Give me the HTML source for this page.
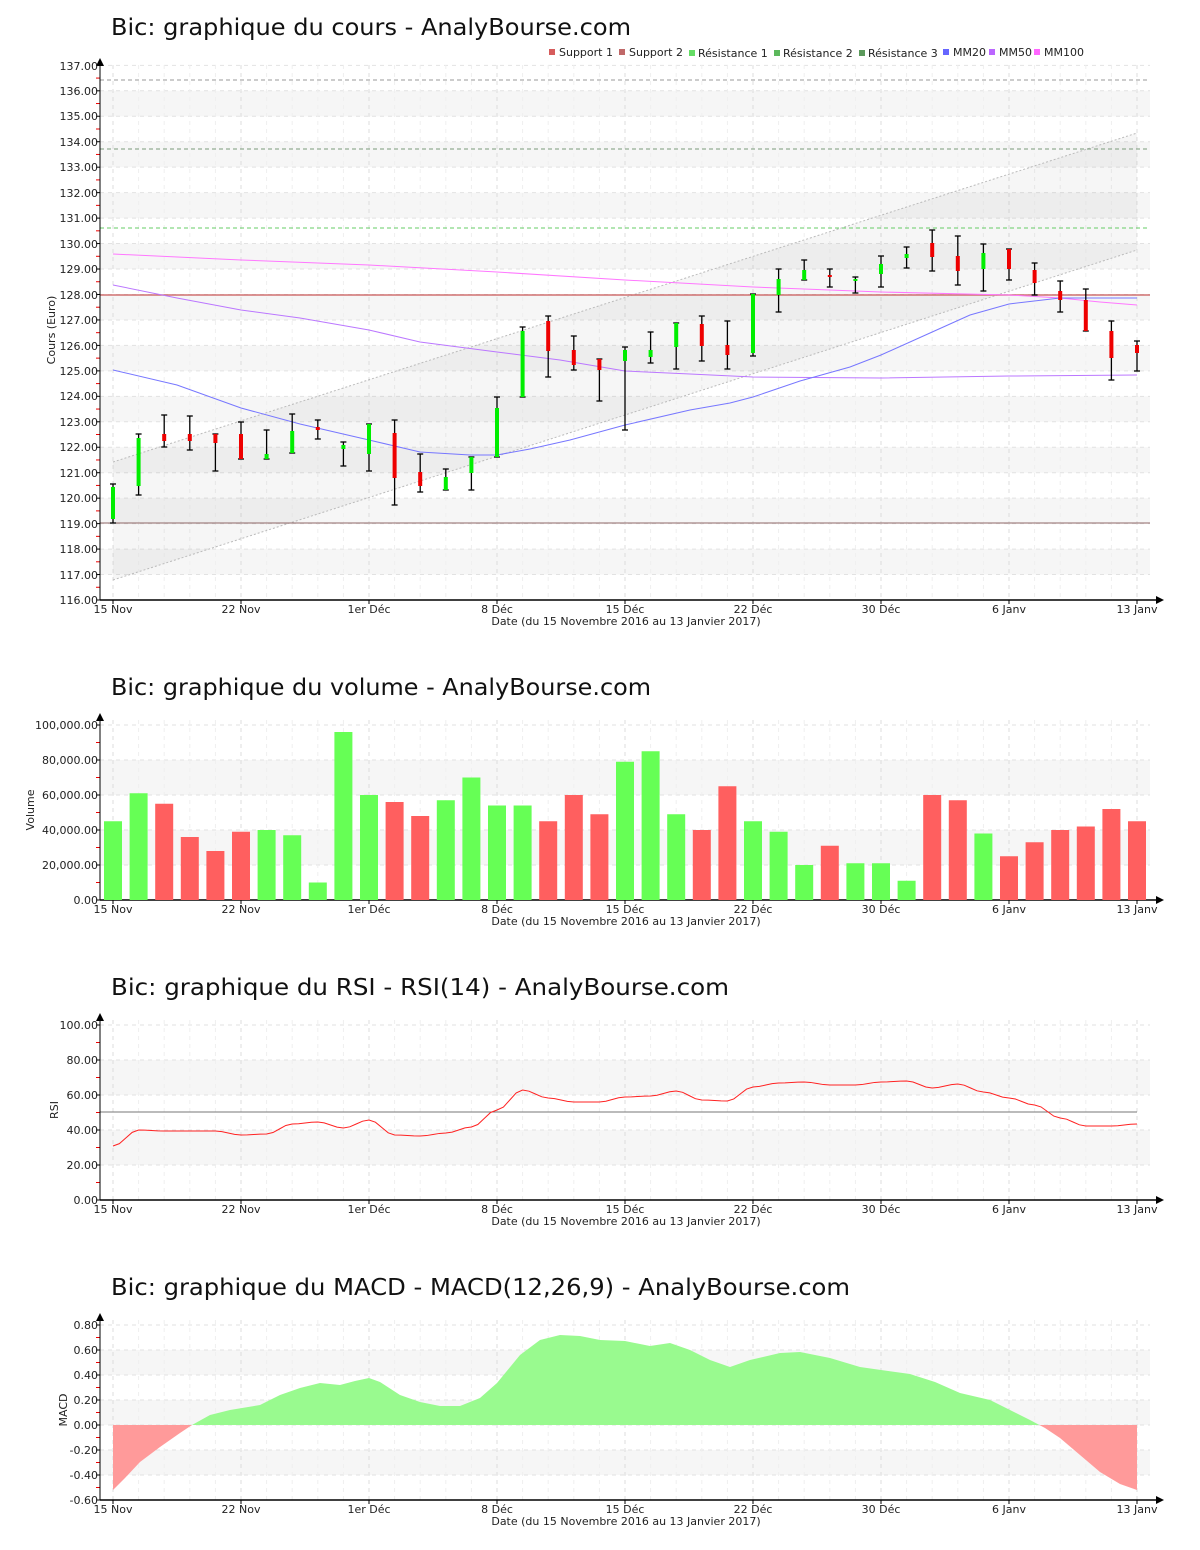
<!DOCTYPE html>
<html><head><meta charset="utf-8"><style>
body{margin:0;background:#fff}
svg{display:block;font-family:"DejaVu Sans","Liberation Sans",sans-serif}
.t{font-size:11px;fill:#222}
.ttl{font-size:23px;fill:#111}
</style></head><body>
<svg id="s" xmlns="http://www.w3.org/2000/svg" width="1200" height="1550" viewBox="0 0 1200 1550">
<defs>
<clipPath id="cpUp"><rect x="100" y="1300" width="1060" height="125"/></clipPath>
<clipPath id="cpDn"><rect x="100" y="1425" width="1060" height="100"/></clipPath>
</defs>
<rect width="1200" height="1550" fill="#fff"/>
<g id="shapes"></g>
<g id="macd">
<polygon id="macdUp" clip-path="url(#cpUp)" fill="#99fa8f"/>
<polygon id="macdDn" clip-path="url(#cpDn)" fill="#ff9a9a"/>
</g>
<g id="top"></g>
<text class="ttl" x="111" y="35" textLength="520" lengthAdjust="spacingAndGlyphs">Bic: graphique du cours - AnalyBourse.com</text>
<text class="ttl" x="111" y="695" textLength="540" lengthAdjust="spacingAndGlyphs">Bic: graphique du volume - AnalyBourse.com</text>
<text class="ttl" x="111" y="995" textLength="618" lengthAdjust="spacingAndGlyphs">Bic: graphique du RSI - RSI(14) - AnalyBourse.com</text>
<text class="ttl" x="111" y="1295" textLength="739" lengthAdjust="spacingAndGlyphs">Bic: graphique du MACD - MACD(12,26,9) - AnalyBourse.com</text>
<g class="t">
<rect x="549" y="49" width="6" height="6" fill="#d65c5c"/><text x="559" y="56">Support 1</text>
<rect x="619" y="49" width="6" height="6" fill="#c06868"/><text x="629" y="56">Support 2</text>
<rect x="689" y="50" width="6" height="6" fill="#66dd66"/><text x="698" y="57">Résistance 1</text>
<rect x="774" y="50" width="6" height="6" fill="#5cb85c"/><text x="783" y="57">Résistance 2</text>
<rect x="859" y="50" width="6" height="6" fill="#5c9a5c"/><text x="868" y="57">Résistance 3</text>
<rect x="943" y="49" width="6" height="6" fill="#6666ff"/><text x="953" y="56">MM20</text>
<rect x="989" y="49" width="6" height="6" fill="#bb66ff"/><text x="999" y="56">MM50</text>
<rect x="1034" y="49" width="6" height="6" fill="#ff66ff"/><text x="1044" y="56">MM100</text>
</g>
<g class="t" text-anchor="end">
<text x="98" y="70">137.00</text><text x="98" y="95">136.00</text><text x="98" y="120">135.00</text><text x="98" y="146">134.00</text><text x="98" y="171">133.00</text><text x="98" y="197">132.00</text><text x="98" y="222">131.00</text><text x="98" y="248">130.00</text><text x="98" y="273">129.00</text><text x="98" y="299">128.00</text><text x="98" y="324">127.00</text><text x="98" y="350">126.00</text><text x="98" y="375">125.00</text><text x="98" y="400">124.00</text><text x="98" y="426">123.00</text><text x="98" y="451">122.00</text><text x="98" y="477">121.00</text><text x="98" y="502">120.00</text><text x="98" y="528">119.00</text><text x="98" y="553">118.00</text><text x="98" y="579">117.00</text><text x="98" y="604">116.00</text>
</g>
<g class="t" text-anchor="middle">
<text x="113" y="613">15 Nov</text><text x="241" y="613">22 Nov</text><text x="369" y="613">1er Déc</text><text x="497" y="613">8 Déc</text><text x="625" y="613">15 Déc</text><text x="753" y="613">22 Déc</text><text x="881" y="613">30 Déc</text><text x="1009" y="613">6 Janv</text><text x="1137" y="613">13 Janv</text>
<text x="626" y="625">Date (du 15 Novembre 2016 au 13 Janvier 2017)</text>
<text transform="translate(55,330) rotate(-90)">Cours (Euro)</text>
</g>
<g class="t" text-anchor="end">
<text x="98" y="729">100,000.00</text><text x="98" y="764">80,000.00</text><text x="98" y="799">60,000.00</text><text x="98" y="834">40,000.00</text><text x="98" y="869">20,000.00</text><text x="98" y="904">0.00</text>
</g>
<g class="t" text-anchor="middle">
<text x="113" y="913">15 Nov</text><text x="241" y="913">22 Nov</text><text x="369" y="913">1er Déc</text><text x="497" y="913">8 Déc</text><text x="625" y="913">15 Déc</text><text x="753" y="913">22 Déc</text><text x="881" y="913">30 Déc</text><text x="1009" y="913">6 Janv</text><text x="1137" y="913">13 Janv</text>
<text x="626" y="925">Date (du 15 Novembre 2016 au 13 Janvier 2017)</text>
<text transform="translate(34,810) rotate(-90)">Volume</text>
</g>
<g class="t" text-anchor="end">
<text x="98" y="1029">100.00</text><text x="98" y="1064">80.00</text><text x="98" y="1099">60.00</text><text x="98" y="1134">40.00</text><text x="98" y="1169">20.00</text><text x="98" y="1204">0.00</text>
</g>
<g class="t" text-anchor="middle">
<text x="113" y="1213">15 Nov</text><text x="241" y="1213">22 Nov</text><text x="369" y="1213">1er Déc</text><text x="497" y="1213">8 Déc</text><text x="625" y="1213">15 Déc</text><text x="753" y="1213">22 Déc</text><text x="881" y="1213">30 Déc</text><text x="1009" y="1213">6 Janv</text><text x="1137" y="1213">13 Janv</text>
<text x="626" y="1225">Date (du 15 Novembre 2016 au 13 Janvier 2017)</text>
<text transform="translate(58,1110) rotate(-90)">RSI</text>
</g>
<g class="t" text-anchor="end">
<text x="98" y="1329">0.80</text><text x="98" y="1354">0.60</text><text x="98" y="1379">0.40</text><text x="98" y="1404">0.20</text><text x="98" y="1429">0.00</text><text x="98" y="1454">-0.20</text><text x="98" y="1479">-0.40</text><text x="98" y="1504">-0.60</text>
</g>
<g class="t" text-anchor="middle">
<text x="113" y="1513">15 Nov</text><text x="241" y="1513">22 Nov</text><text x="369" y="1513">1er Déc</text><text x="497" y="1513">8 Déc</text><text x="625" y="1513">15 Déc</text><text x="753" y="1513">22 Déc</text><text x="881" y="1513">30 Déc</text><text x="1009" y="1513">6 Janv</text><text x="1137" y="1513">13 Janv</text>
<text x="626" y="1525">Date (du 15 Novembre 2016 au 13 Janvier 2017)</text>
<text transform="translate(67,1410) rotate(-90)">MACD</text>
</g>
</svg>
<script>
(function(){
var NS='http://www.w3.org/2000/svg';
var G=document.getElementById('shapes'), T=document.getElementById('top');
function el(p,tag,a){var e=document.createElementNS(NS,tag);for(var k in a)e.setAttribute(k,a[k]);p.appendChild(e);return e;}
function X(i){return 113+i*25.6;}
function ln(p,x1,y1,x2,y2,st,w,da){var a={x1:x1,y1:y1,x2:x2,y2:y2,stroke:st,'stroke-width':w||1};if(da)a['stroke-dasharray']=da;return el(p,'line',a);}
function pl(p,pts,st,w,da){var a={points:pts.map(function(q){return q.join(',')}).join(' '),fill:'none',stroke:st,'stroke-width':w||1};if(da)a['stroke-dasharray']=da;return el(p,'polyline',a);}
function panel(top,bot,ys,shades){
  shades.forEach(function(s){el(G,'rect',{x:100,y:s[0],width:1050,height:s[1]-s[0],fill:'#f6f6f6'});});
  ys.forEach(function(y){ln(G,100,y,1150,y,'#e2e2e2',1,'4,4');});
  for(var i=0;i<=40;i++){ln(G,X(i),top+5,X(i),bot,i%5==0?'#dcdcdc':'#efefef',1,'4,4');}
  for(var k=0;k<ys.length-1;k++){var ym=(ys[k]+ys[k+1])/2;ln(T,96,ym,100,ym,'#e00',1);}
  ys.forEach(function(y){ln(T,96,y,100,y,'#000',1);});
  ln(T,100,top,100,bot,'#000',1);ln(T,100,bot,1160,bot,'#000',1.5);
  el(T,'polygon',{points:'96,'+(top+6)+' 104,'+(top+6)+' 100,'+(top-2),fill:'#000'});
  el(T,'polygon',{points:'1156,'+(bot-4)+' 1156,'+(bot+4)+' 1164,'+bot,fill:'#000'});
  for(var i=0;i<=40;i+=5){ln(T,X(i),bot,X(i),bot+4,'#000',1);}
}
function Y1(v){return 600-(v-116)*25.46;}
var ys=[],sh=[];for(var v=116;v<=137;v++){ys.push(Y1(v));if(v%2==1&&v<137)sh.push([Y1(v+1),Y1(v)]);}
panel(60,600,ys,sh);
el(G,'polygon',{points:'113,462 1137,133 1137,250 113,580',fill:'rgba(0,0,0,0.035)'});
ln(G,113,462,1137,133,'#bbb',1,'2,2');ln(G,113,580,1137,250,'#bbb',1,'2,2');
ln(G,100,80,1150,80,'#999',1,'4,3');ln(G,100,149,1150,149,'#7a9a7a',1,'4,3');
ln(G,100,228,1150,228,'#66cc66',1,'4,3');
ln(G,100,295,1150,295,'#d07070',1.5);ln(G,100,523,1150,523,'#906868',1);
pl(G,[[113,254],[241,260],[369,265],[497,272],[625,280],[753,287],[881,292],[1009,295],[1060,298],[1100,302],[1137,305]],'#ff77ff',1);
pl(G,[[113,285],[177,298],[241,310],[300,318],[369,330],[420,342],[497,352],[560,360],[625,371],[690,374],[753,377],[881,378],[1009,376],[1137,375]],'#bb77ff',1);
pl(G,[[113,370],[177,385],[241,408],[300,424],[369,440],[420,452],[470,455],[497,455],[530,449],[570,440],[625,425],[690,410],[730,403],[753,397],[800,381],[850,367],[881,355],[930,333],[970,315],[1009,304],[1060,298],[1137,298]],'#7777ff',1);
var C=[[484,523,487,519,'g'],[434,495,438,486,'g'],[415,447,434,441,'r'],[416,450,434,441,'r'],[434,471,434,443,'r'],[422,459,434,459,'r'],[430,459,454,459,'g'],[414,453,431,453,'g'],[420,439,427,430,'r'],[442,466,445,449,'g'],[424,471,424,454,'g'],[420,505,433,478,'r'],[454,492,472,486,'r'],[469,490,477,490,'g'],[457,490,457,473,'g'],[397,457,408,457,'g'],[327,397,331,397,'g'],[316,377,321,351,'r'],[336,370,350,365,'r'],[359,401,359,370,'r'],[347,430,350,361,'g'],[332,363,350,357,'g'],[323,369,323,347,'g'],[316,361,324,346,'r'],[321,369,345,355,'r'],[294,356,294,353,'g'],[269,312,279,295,'g'],[260,280,270,280,'g'],[269,287,275,277,'r'],[277,293,279,281,'g'],[256,287,264,274,'g'],[247,268,254,258,'g'],[230,271,243,257,'r'],[236,285,256,271,'r'],[244,291,253,269,'g'],[249,280,249,269,'r'],[263,295,270,283,'r'],[281,312,291,300,'r'],[289,331,300,331,'r'],[321,380,331,358,'r'],[341,371,345,353,'r']];
C.forEach(function(c,i){var x=X(i);ln(T,x,c[0],x,c[1],'#000',1.3);ln(T,x-3,c[0],x+3,c[0],'#000',1.3);ln(T,x-3,c[1],x+3,c[1],'#000',1.3);
 el(T,'rect',{x:x-2,y:c[2],width:4,height:Math.max(2,c[3]-c[2]),fill:c[4]=='g'?'#00ee00':'#ee0000'});});
function Y2(v){return 900-v*1.75;}
ys=[];for(var v=0;v<=100;v+=20)ys.push(Y2(v));
panel(715,900,ys,[[Y2(80),Y2(60)],[Y2(40),Y2(20)]]);
var V=[45,61,55,36,28,39,40,37,10,96,60,56,48,57,70,54,54,45,60,49,79,85,49,40,65,45,39,20,31,21,21,11,60,57,38,25,33,40,42,52,45];
var VC='ggrrrrggggg'+'rrgggg'+'rrr'+'ggg'+'rr'+'ggg'+'r'+'ggg'+'rr'+'g'+'rrrrrr';
V.forEach(function(v,i){el(T,'rect',{x:X(i)-9,y:Y2(v),width:18,height:900-Y2(v),fill:VC[i]=='g'?'#66ff55':'#ff5f5f'});});
function Y3(v){return 1200-v*1.75;}
ys=[];for(var v=0;v<=100;v+=20)ys.push(Y3(v));
panel(1015,1200,ys,[[Y3(80),Y3(60)],[Y3(40),Y3(20)]]);
ln(G,100,1112,1137,1112,'#777',1);
var R=[1146,1130,1131,1131,1131,1135,1134,1124,1122,1128,1120,1135,1136,1133,1127,1110,1090,1098,1102,1102,1097,1096,1091,1100,1101,1087,1083,1082,1085,1085,1082,1081,1088,1084,1092,1098,1105,1118,1126,1126,1124];
var pts=[];for(var i=0;i<R.length-1;i++){var x0=X(i),x1=X(i+1);for(var t=0;t<1;t+=0.25){var s=(1-Math.cos(t*Math.PI))/2;pts.push([x0+(x1-x0)*t,R[i]+(R[i+1]-R[i])*s]);}}pts.push([X(40),R[40]]);
pl(T,pts,'#ff2222',1);
function Y4(v){return 1425-v*125;}
ys=[];for(var v=-0.6;v<=0.81;v+=0.2)ys.push(Y4(v));
panel(1315,1500,ys,[[Y4(0.6),Y4(0.4)],[Y4(0.2),Y4(0)],[Y4(-0.2),Y4(-0.4)]]);
var M=[[113,1490],[125,1478],[140,1462],[160,1447],[180,1433],[192,1425],[210,1415],[230,1410],[260,1405],[280,1395],[300,1388],[320,1383],[340,1385],[355,1381],[369,1378],[380,1382],[400,1395],[420,1402],[440,1406],[460,1406],[480,1398],[497,1383],[520,1355],[540,1340],[560,1335],[580,1336],[600,1340],[625,1341],[650,1346],[670,1343],[690,1350],[710,1360],[730,1367],[750,1360],[780,1353],[800,1352],[830,1358],[860,1367],[881,1370],[910,1374],[935,1382],[960,1393],[990,1400],[1010,1410],[1030,1420],[1045,1428],[1060,1438],[1080,1455],[1100,1472],[1120,1484],[1137,1490]];
var poly=[[113,1425]].concat(M).concat([[1137,1425]]).map(function(q){return q.join(',')}).join(' ');
var up=document.getElementById('macdUp'),dn=document.getElementById('macdDn');
up.setAttribute('points',poly);dn.setAttribute('points',poly);
var mg=document.getElementById('macd');G.parentNode.insertBefore(mg,T);
})();
</script>
</body></html>
